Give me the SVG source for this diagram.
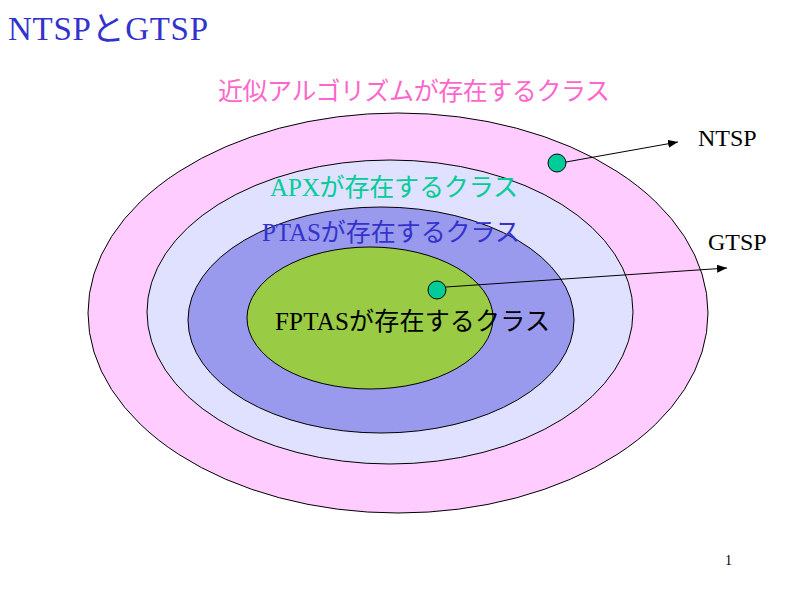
<svg xmlns="http://www.w3.org/2000/svg" width="800" height="600" viewBox="0 0 800 600">
<defs>
<style>
.t{font-family:"Liberation Serif","Noto Sans CJK JP",serif}
.e{stroke:#000;stroke-width:1}
.c{stroke:#000;stroke-width:1;fill:none;marker-end:url(#a)}
</style>
<marker id="a" markerWidth="10" markerHeight="8" refX="10" refY="4" orient="auto" markerUnits="userSpaceOnUse"><path d="M0,0L10,4L0,8z" fill="#000"/></marker>
</defs>
<rect width="800" height="600" fill="#fff"/>
<text class="t" x="8" y="40" font-size="33" fill="#3333cc" textLength="200">NTSPとGTSP</text>
<g id="approx"><ellipse class="e" cx="398" cy="313" rx="310" ry="200" fill="#ffccff"/>
<text class="t" x="218" y="100" font-size="25" fill="#ff66cc" textLength="392">近似アルゴリズムが存在するクラス</text></g>
<g id="apx"><ellipse class="e" cx="390" cy="312" rx="243" ry="152" fill="#e0e0ff"/>
<text class="t" x="270" y="196" font-size="25" fill="#00cc99" textLength="248">APXが存在するクラス</text></g>
<g id="ptas"><ellipse class="e" cx="381" cy="320" rx="193" ry="113" fill="#9999ee"/>
<text class="t" x="262" y="241" font-size="25" fill="#3333cc" textLength="258">PTASが存在するクラス</text></g>
<g id="fptas"><ellipse class="e" cx="370" cy="318" rx="123" ry="71" fill="#99cc44"/>
<text class="t" x="275" y="330" font-size="25" fill="#000" textLength="275">FPTASが存在するクラス</text></g>
<g id="ntsp"><circle class="e" cx="557" cy="163" r="9" fill="#00cc99"/>
<text class="t" x="698" y="146" font-size="24">NTSP</text></g>
<g id="gtsp"><circle class="e" cx="437" cy="290" r="9" fill="#00cc99"/>
<text class="t" x="708" y="250" font-size="24">GTSP</text></g>
<g id="connectors">
<line class="c" x1="566" y1="162" x2="678" y2="142"/>
<line class="c" x1="446" y1="287" x2="727" y2="268"/>
</g>
<text class="t" x="725" y="565" font-size="14">1</text>
</svg>
